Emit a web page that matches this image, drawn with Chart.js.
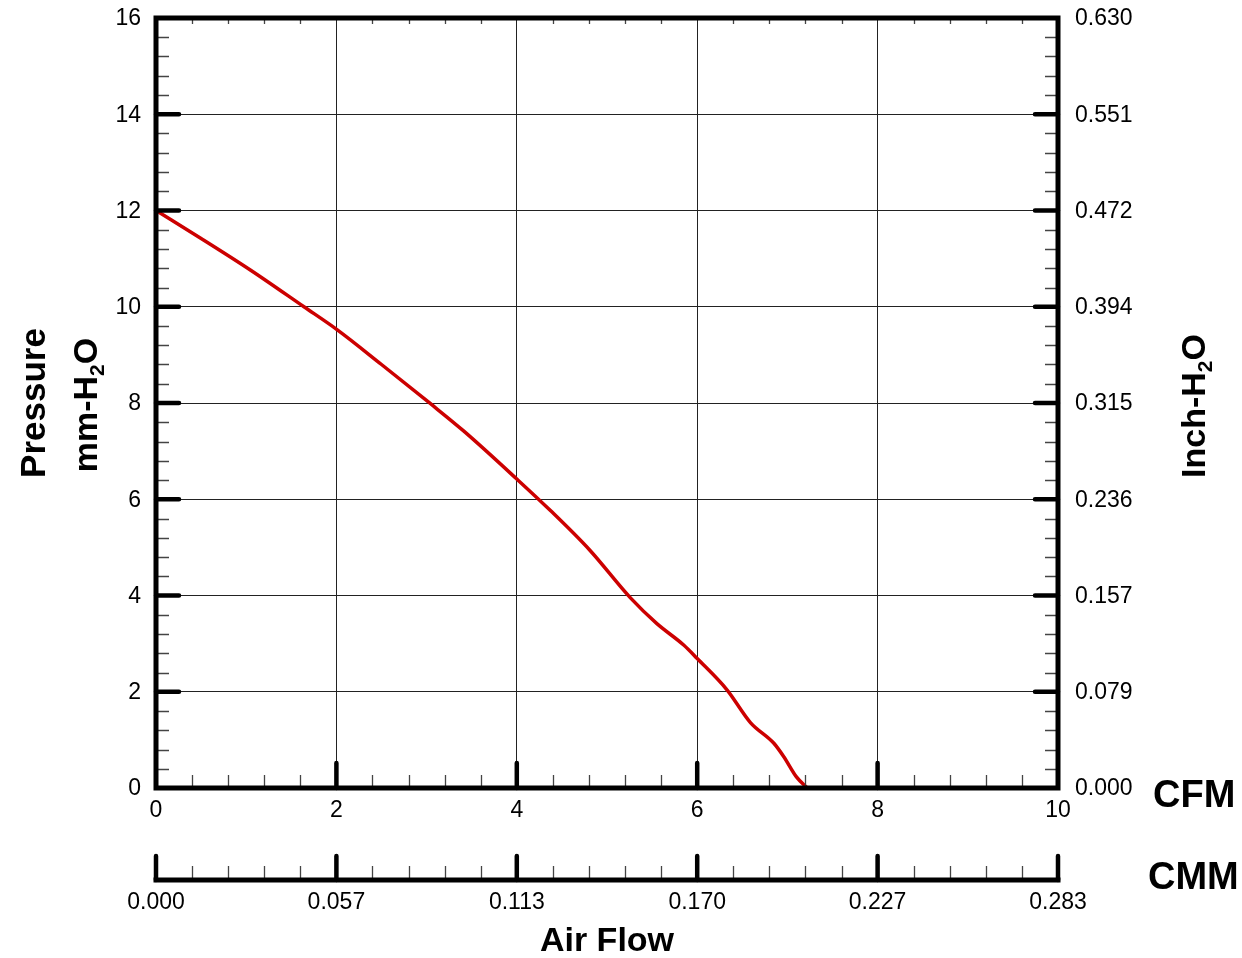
<!DOCTYPE html>
<html>
<head>
<meta charset="utf-8">
<script src="https://cdn.jsdelivr.net/npm/chart.js@4/dist/chart.umd.min.js"></script>
<style>
  html, body { margin: 0; padding: 0; background: #fff; }
  #wrap { width: 1242px; height: 958px; }
</style>
</head>
<body>
<div id="wrap"><canvas id="pq"></canvas></div>
<script>
// fan P-Q curve
const flowCfm = [0, 0.5, 1.05, 1.64, 2.01, 2.5, 3.04, 3.41, 4.0, 4.37, 4.81, 5.26, 5.55, 5.85, 6.0, 6.33, 6.59, 6.85, 6.96, 7.1, 7.22];
const pressureMm = [12, 11.42, 10.76, 10.0, 9.52, 8.8, 7.99, 7.42, 6.42, 5.77, 4.94, 3.95, 3.42, 2.97, 2.69, 2.04, 1.36, 0.93, 0.65, 0.23, 0.0];

const cfmTicks = [0, 2, 4, 6, 8, 10];
const cfmLabels = ['0', '2', '4', '6', '8', '10'];
const cmmLabels = ['0.000', '0.057', '0.113', '0.170', '0.227', '0.283'];
const mmTicks = [0, 2, 4, 6, 8, 10, 12, 14, 16];
const mmLabels = ['0', '2', '4', '6', '8', '10', '12', '14', '16'];
const inchLabels = ['0.000', '0.079', '0.157', '0.236', '0.315', '0.394', '0.472', '0.551', '0.630'];

const FONT = "'Liberation Sans', Arial, sans-serif";

function drawSubTitle(ctx, main, sub, tail, size) {
    ctx.font = `bold ${size}px ${FONT}`;
    const w1 = ctx.measureText(main).width;
    const w3 = ctx.measureText(tail).width;
    ctx.font = `bold ${Math.round(size * 0.62)}px ${FONT}`;
    const w2 = ctx.measureText(sub).width;
    let x = -(w1 + w2 + w3) / 2;
    ctx.textAlign = 'left';
    ctx.textBaseline = 'alphabetic';
    ctx.font = `bold ${size}px ${FONT}`;
    ctx.fillText(main, x, 0);
    x += w1;
    ctx.font = `bold ${Math.round(size * 0.62)}px ${FONT}`;
    ctx.fillText(sub, x, 7);
    x += w2;
    ctx.font = `bold ${size}px ${FONT}`;
    ctx.fillText(tail, x, 0);
}

const framePlugin = {
    id: 'frame',
    afterDraw(chart) {
        const { ctx, chartArea: a, scales: { x, y } } = chart;
        ctx.save();

        // minor ticks
        ctx.strokeStyle = '#444';
        ctx.lineWidth = 1.3;
        ctx.beginPath();
        for (let i = 1; i < 25; i++) {
            if (i % 5 === 0) continue;
            const px = Math.round(x.getPixelForValue(i * 0.4)) + 0.5;
            ctx.moveTo(px, a.bottom); ctx.lineTo(px, a.bottom - 13);
            ctx.moveTo(px, a.top); ctx.lineTo(px, a.top + 6);
            ctx.moveTo(px, 880); ctx.lineTo(px, 866);
        }
        for (let i = 1; i < 40; i++) {
            if (i % 5 === 0) continue;
            const py = Math.round(y.getPixelForValue(i * 0.4)) + 0.5;
            ctx.moveTo(a.left, py); ctx.lineTo(a.left + 13, py);
            ctx.moveTo(a.right, py); ctx.lineTo(a.right - 13, py);
        }
        ctx.stroke();

        // major ticks
        ctx.strokeStyle = '#000';
        ctx.lineWidth = 4.5;
        ctx.lineCap = 'round';
        ctx.beginPath();
        cfmTicks.forEach(v => {
            const px = x.getPixelForValue(v);
            if (v !== 0 && v !== 10) {
                ctx.moveTo(px, a.bottom); ctx.lineTo(px, a.bottom - 25);
            }
            ctx.moveTo(px, 880); ctx.lineTo(px, 856);
        });
        mmTicks.forEach(v => {
            if (v === 0 || v === 16) return;
            const py = y.getPixelForValue(v);
            ctx.moveTo(a.left, py); ctx.lineTo(a.left + 23, py);
            ctx.moveTo(a.right, py); ctx.lineTo(a.right - 23, py);
        });
        ctx.stroke();

        // plot frame and CMM axis line
        ctx.lineCap = 'butt';
        ctx.lineWidth = 5;
        ctx.strokeRect(a.left, a.top, a.right - a.left, a.bottom - a.top);
        ctx.beginPath();
        ctx.moveTo(a.left - 2.5, 880); ctx.lineTo(a.right + 2.5, 880);
        ctx.stroke();

        // tick labels
        ctx.fillStyle = '#000';
        ctx.font = `23px ${FONT}`;
        ctx.textBaseline = 'middle';
        ctx.textAlign = 'right';
        mmTicks.forEach((v, i) => ctx.fillText(mmLabels[i], 141, y.getPixelForValue(v) + 1));
        ctx.textAlign = 'left';
        mmTicks.forEach((v, i) => ctx.fillText(inchLabels[i], 1075, y.getPixelForValue(v) + 1));
        ctx.textAlign = 'center';
        cfmTicks.forEach((v, i) => ctx.fillText(cfmLabels[i], x.getPixelForValue(v), 811));
        cfmTicks.forEach((v, i) => ctx.fillText(cmmLabels[i], x.getPixelForValue(v), 903));

        // axis titles
        ctx.font = `bold 34px ${FONT}`;
        ctx.fillText('Air Flow', (a.left + a.right) / 2, 942);
        ctx.font = `bold 38px ${FONT}`;
        ctx.textAlign = 'left';
        ctx.fillText('CFM', 1153, 797);
        ctx.fillText('CMM', 1148, 879);

        ctx.save();
        ctx.translate(45, 403);
        ctx.rotate(-Math.PI / 2);
        ctx.font = `bold 35px ${FONT}`;
        ctx.textAlign = 'center';
        ctx.textBaseline = 'alphabetic';
        ctx.fillText('Pressure', 0, 0);
        ctx.restore();

        ctx.save();
        ctx.translate(97, 405);
        ctx.rotate(-Math.PI / 2);
        drawSubTitle(ctx, 'mm-H', '2', 'O', 34);
        ctx.restore();

        ctx.save();
        ctx.translate(1205, 406);
        ctx.rotate(-Math.PI / 2);
        drawSubTitle(ctx, 'Inch-H', '2', 'O', 34);
        ctx.restore();

        ctx.restore();
    },
};

new Chart(document.getElementById('pq'), {
    type: 'line',
    data: {
        datasets: [{
            label: 'P-Q',
            data: flowCfm.map((f, i) => ({ x: f, y: pressureMm[i] })),
            borderColor: '#cc0000',
            borderWidth: 3.5,
            pointRadius: 0,
            fill: false,
            cubicInterpolationMode: 'monotone',
        }],
    },
    options: {
        responsive: true,
        maintainAspectRatio: false,
        animation: false,
        events: [],
        layout: {
            padding: { left: 156, right: 184, top: 18, bottom: 170 },
        },
        scales: {
            x: {
                type: 'linear',
                min: 0,
                max: 10,
                ticks: { display: false, stepSize: 2 },
                grid: { color: '#222', lineWidth: 1, drawTicks: false },
                border: { display: false },
                afterFit: (scale) => { scale.height = 0; },
            },
            y: {
                min: 0,
                max: 16,
                ticks: { display: false, stepSize: 2 },
                grid: { color: '#222', lineWidth: 1, drawTicks: false },
                border: { display: false },
                afterFit: (scale) => { scale.width = 0; },
            },
        },
        plugins: {
            legend: { display: false },
            tooltip: { enabled: false },
        },
    },
    plugins: [framePlugin],
});
</script>
</body>
</html>
